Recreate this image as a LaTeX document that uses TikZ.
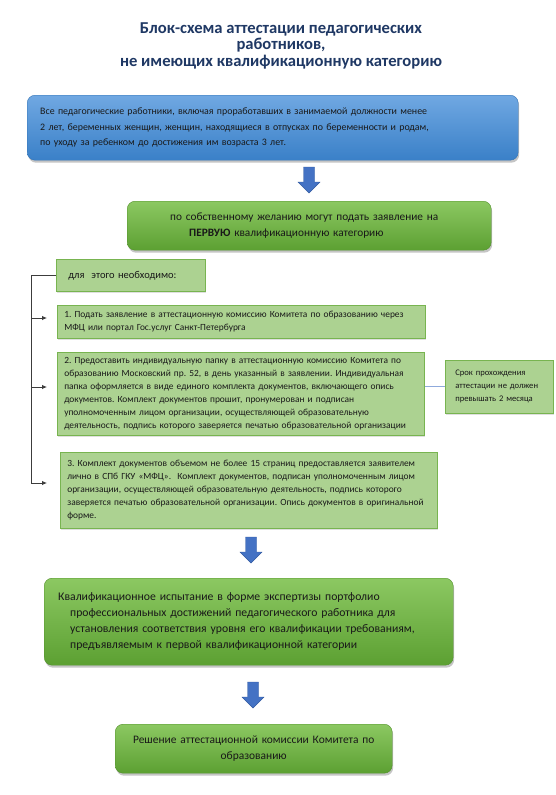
\documentclass[tikz,border=0pt]{standalone}
\usepackage{fontspec}
\setmainfont{Carlito}
\usetikzlibrary{shadows,arrows.meta,calc}
\definecolor{titleblue}{RGB}{31,56,100}
\definecolor{bluetop}{RGB}{112,168,226}
\definecolor{bluebot}{RGB}{58,128,200}
\definecolor{greentop}{RGB}{140,200,98}
\definecolor{greenbot}{RGB}{92,160,50}
\definecolor{lightgreen}{RGB}{172,210,145}
\definecolor{lightgreenedge}{RGB}{120,180,80}
\definecolor{arrowblue}{RGB}{68,114,196}
\definecolor{arrowedge}{RGB}{50,90,160}
\definecolor{linkblue}{RGB}{143,170,220}
\definecolor{busgray}{RGB}{60,60,60}
\newcommand\blockarrowdown[2]{%
  \fill[barrow] (#1-5.5,#2) -- (#1+5.5,#2) -- (#1+5.5,#2+15) -- (#1+11,#2+15)
    -- (#1,#2+26) -- (#1-11,#2+15) -- (#1-5.5,#2+15) -- cycle;}
\begin{document}
\frenchspacing
\begin{tikzpicture}[x=1pt,y=-1pt,
  title/.style={align=center,text=titleblue,font=\fontsize{16.6}{16.5}\selectfont\bfseries,inner sep=0pt},
  bluebox/.style={anchor=north west,rounded corners=8pt,top color=bluetop,bottom color=bluebot,
    draw=bluebot!90!black,line width=0.4pt,align=left,
    drop shadow={shadow xshift=1pt,shadow yshift=-2.5pt,opacity=0.45},
    font=\fontsize{9.9}{15.5}\selectfont,text=black!90},
  greenbox/.style={anchor=north west,rounded corners=8pt,top color=greentop,bottom color=greenbot,
    draw=greenbot!90!black,line width=0.4pt,
    drop shadow={shadow xshift=1pt,shadow yshift=-2.5pt,opacity=0.45},text=black!90},
  stepbox/.style={anchor=north west,fill=lightgreen,draw=lightgreenedge,line width=0.6pt,align=left,
    drop shadow={shadow xshift=0.8pt,shadow yshift=-1.2pt,opacity=0.25},
    font=\fontsize{9.4}{13}\selectfont,text=black!90},
  barrow/.style={fill=arrowblue,draw=arrowedge,line width=0.4pt},
  busline/.style={draw=busgray,line width=0.9pt},
  busarrow/.style={busline,-{Latex[length=5pt,width=4.5pt]}},
  link/.style={draw=linkblue,line width=1pt}]
\useasboundingbox (0,0) rectangle (555,795);
\fill[white] (0,0) rectangle (555,795);

\node[title] (title) at (281,45.5) {Блок-схема аттестации педагогических\\работников,\\не имеющих квалификационную категорию};

\node[bluebox,minimum width=491pt,minimum height=65pt,inner xsep=13pt,text width=465pt] (all) at (27,95)
  {Все педагогические работники, включая проработавших в занимаемой должности менее\\
   2 лет, беременных женщин, женщин, находящиеся в отпусках по беременности и родам,\\
   по уходу за ребенком до достижения им возраста 3 лет.\vphantom{Ву}\\[-4pt]};

\blockarrowdown{309}{167}

\node[greenbox,minimum width=364pt,minimum height=49pt,inner xsep=43pt,text width=278pt,align=left,
  font=\fontsize{11.3}{16}\selectfont] (wish) at (127,201)
  {по собственному желанию могут подать заявление на\\
   \hspace*{19pt}\textbf{ПЕРВУЮ} квалификационную категорию};

\node[stepbox,minimum width=149pt,minimum height=32pt,inner xsep=12pt,text width=125pt,
  font=\fontsize{10.5}{13}\selectfont] (need) at (56,259) {для\ \ этого необходимо:};

\node[stepbox,minimum width=368pt,minimum height=33pt,inner xsep=7pt,text width=354pt] (s1) at (57,305)
  {1. Подать заявление в аттестационную комиссию Комитета по образованию через\\
   МФЦ или портал Гос.услуг Санкт-Петербурга};

\node[stepbox,minimum width=367pt,minimum height=83pt,inner xsep=7pt,text width=353pt] (s2) at (57,352)
  {2. Предоставить индивидуальную папку в аттестационную комиссию Комитета по\\
   образованию Московский пр. 52, в день указанный в заявлении. Индивидуальная\\
   папка оформляется в виде единого комплекта документов, включающего опись\\
   документов. Комплект документов прошит, пронумерован и подписан\\
   уполномоченным лицом организации, осуществляющей образовательную\\
   деятельность, подпись которого заверяется печатью образовательной организации};

\node[stepbox,minimum width=108pt,minimum height=53pt,inner xsep=10pt,text width=88pt,
  font=\fontsize{8.6}{13}\selectfont] (srok) at (445,360)
  {Срок прохождения\\ аттестации не должен\\ превышать 2 месяца};

\node[stepbox,minimum width=377pt,minimum height=76pt,inner xsep=7pt,text width=363pt] (s3) at (60,452)
  {3. Комплект документов объемом не более 15 страниц предоставляется заявителем\\
   лично в СПб ГКУ «МФЦ».\ \ Комплект документов, подписан уполномоченным лицом\\
   организации, осуществляющей образовательную деятельность, подпись которого\\
   заверяется печатью образовательной организации. Опись документов в оригинальной\\
   форме.};

\draw[link] (s2.east |- srok.west) -- (srok.west);

\coordinate (busx) at (31,0);
\coordinate (t1) at (47,318);
\coordinate (t2) at (47,387);
\coordinate (t3) at (47,483);
\draw[busline] (need.west) -- (need.west -| busx) -- (t3 -| busx);
\draw[busarrow] (t3 -| busx) -- (t3);
\draw[busarrow] (t1 -| busx) -- (t1);
\draw[busarrow] (t2 -| busx) -- (t2);

\blockarrowdown{251}{537}

\node[greenbox,minimum width=409pt,minimum height=87pt,inner xsep=14pt,text width=381pt,align=left,
  font=\fontsize{11.7}{16}\selectfont] (exam) at (44,578)
  {Квалификационное испытание в форме экспертизы портфолио\\
   \hspace*{12pt}профессиональных достижений педагогического работника для\\
   \hspace*{12pt}установления соответствия уровня его квалификации требованиям,\\
   \hspace*{12pt}предъявляемым к первой квалификационной категории};

\blockarrowdown{253}{682}

\node[greenbox,minimum width=277pt,minimum height=49pt,text width=265pt,align=center,
  font=\fontsize{11.45}{16}\selectfont] (res) at (115,724)
  {Решение аттестационной комиссии Комитета по\\ образованию};
\end{tikzpicture}
\end{document}
